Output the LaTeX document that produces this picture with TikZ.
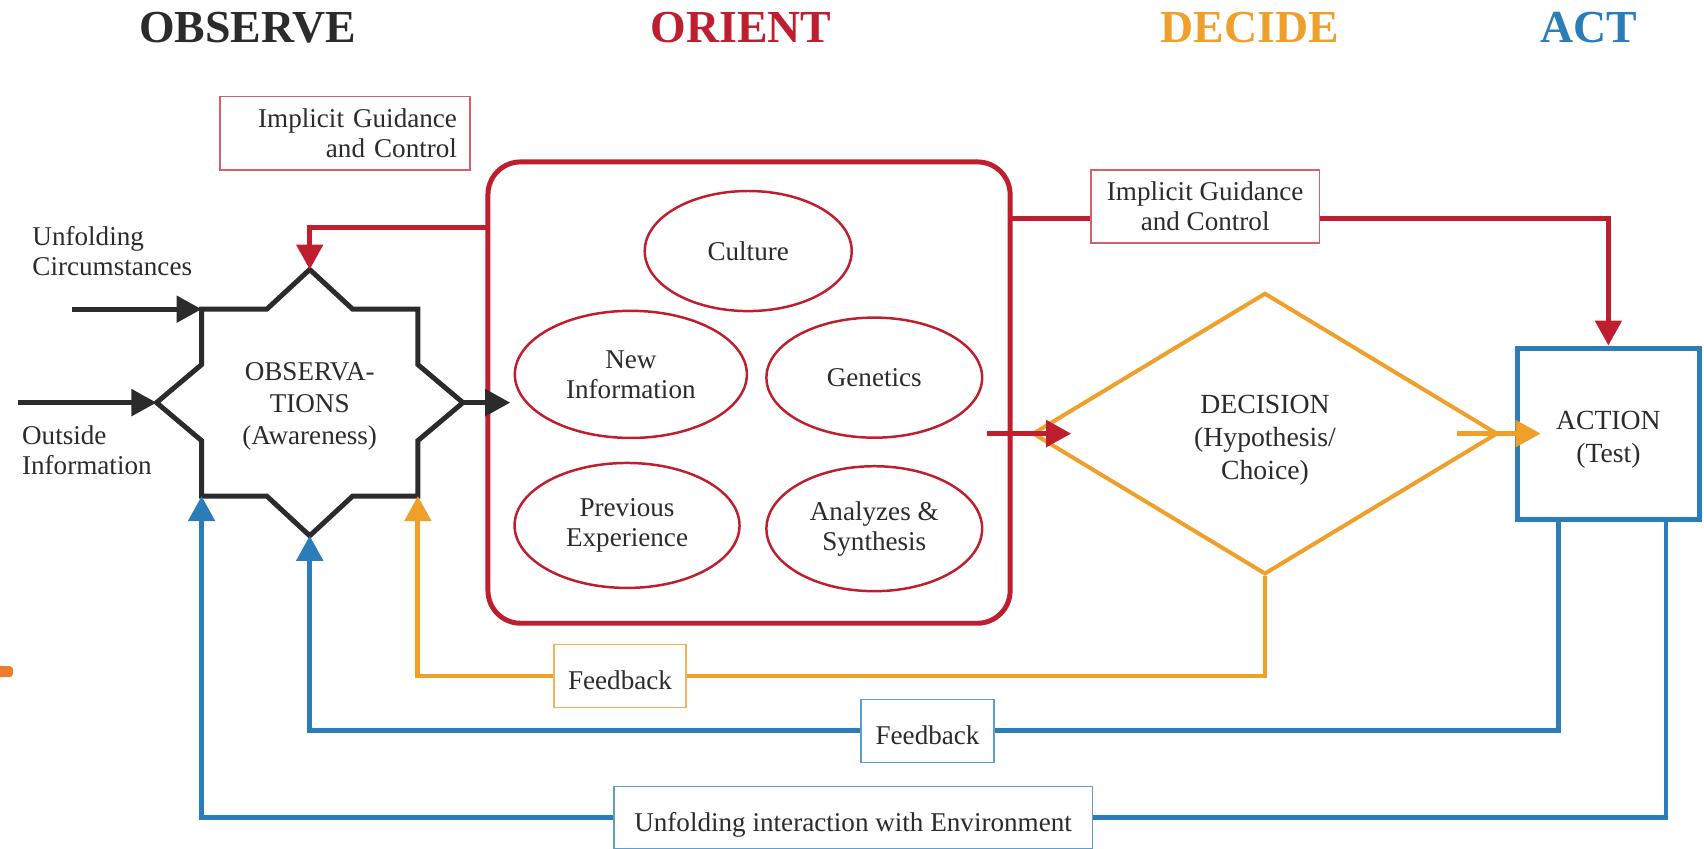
\documentclass[tikz,border=0pt]{standalone}
\usepackage{fontspec}
\setmainfont{Liberation Serif}
\usetikzlibrary{shapes.geometric,arrows.meta}
\definecolor{oodaRed}{HTML}{BE1E2D}
\definecolor{oodaOrange}{HTML}{EFA02A}
\definecolor{oodaBlue}{HTML}{2A7DB9}
\definecolor{oodaInk}{HTML}{2B2B2B}
\definecolor{markOrange}{HTML}{EE7D32}

\begin{document}
\begin{tikzpicture}[
    every node/.style={text=oodaInk,font=\fontsize{14.2}{15.6}\selectfont},
    phase/.style={font=\fontsize{24}{26}\selectfont\bfseries},
    bigtext/.style={align=center,font=\fontsize{14.5}{17.3}\selectfont},
    flow/.style={-{Triangle[length=0.46cm,width=0.48cm]}},
    starline/.style={line width=2.6pt,oodaInk},
    blackline/.style={line width=2.6pt,oodaInk},
    redline/.style={line width=2.6pt,oodaRed},
    orangeline/.style={line width=2.5pt,oodaOrange},
    blueline/.style={line width=2.5pt,oodaBlue},
    idea/.style={ellipse,draw=oodaRed,line width=1.3pt,inner sep=0pt,align=center},
    guide/.style={draw=oodaRed!70,line width=0.7pt,fill=white,inner sep=0pt},
    fbbox/.style={line width=0.7pt,fill=white,inner sep=0pt,minimum height=1.16cm,
      text height=1.41em,text depth=0pt}
  ]
  \useasboundingbox (0,0) rectangle (31.36,-15.62);

  \node (tObs) at (4.56,-0.51) [phase,text=oodaInk] {OBSERVE};
  \node (tOri) at (13.64,-0.51) [phase,text=oodaRed] {ORIENT};
  \node (tDec) at (23.00,-0.51) [phase,text=oodaOrange] {DECIDE};
  \node (tAct) at (29.24,-0.51) [phase,text=oodaBlue] {ACT};

  \fill[markOrange,rounded corners=0.06cm] (-0.2,-12.26) rectangle (0.24,-12.46);

  \node (guide1) at (6.35,-2.45) [guide,minimum width=4.6cm,minimum height=1.36cm,
    text width=4.12cm,align=right] {Implicit Guidance\\and Control};

  \node (unfold) at (0.59,-4.62) [anchor=west,inner sep=0pt,align=left] {Unfolding\\Circumstances};
  \node (outside) at (0.40,-8.28) [anchor=west,inner sep=0pt,align=left] {Outside\\Information};

  \draw[starline] (3.71,-5.69) coordinate (obsNW) -- (4.91,-5.69) -- (5.70,-4.96) coordinate (obsN)
    -- (6.49,-5.69) -- (7.69,-5.69) coordinate (obsNE) -- (7.69,-6.71) -- (8.52,-7.41) coordinate (obsE)
    -- (7.69,-8.11) -- (7.69,-9.13) coordinate (obsSE) -- (6.49,-9.13) -- (5.70,-9.86) coordinate (obsS)
    -- (4.91,-9.13) -- (3.71,-9.13) coordinate (obsSW) -- (3.71,-8.11) -- (2.88,-7.41) coordinate (obsW)
    -- (3.71,-6.71) -- cycle;
  \node (obs) at (5.70,-7.48) [bigtext,font=\fontsize{14.2}{16.8}\selectfont] {OBSERVA-\\TIONS\\(Awareness)};

  \node (orient) at (13.785,-7.225) [draw=oodaRed,line width=2.6pt,rounded corners=0.6cm,
    minimum width=9.61cm,minimum height=8.49cm] {};
  \node (culture) at (13.77,-4.62) [idea,minimum width=3.81cm,minimum height=2.21cm] {Culture};
  \node (newinfo) at (11.61,-6.89) [idea,minimum width=4.27cm,minimum height=2.34cm] {New\\Information};
  \node (genetics) at (16.09,-6.95) [idea,minimum width=3.97cm,minimum height=2.21cm] {Genetics};
  \node (prevexp) at (11.54,-9.67) [idea,minimum width=4.14cm,minimum height=2.30cm] {Previous\\Experience};
  \node (analyze) at (16.09,-9.73) [idea,minimum width=3.97cm,minimum height=2.30cm] {Analyzes \&\\Synthesis};

  \node (guide2) at (22.18,-3.80) [guide,minimum width=4.2cm,minimum height=1.34cm,align=center]
    {Implicit Guidance\\and Control};

  \node (dec) at (23.28,-7.98) [diamond,draw=oodaOrange,line width=2.1pt,inner sep=0pt,
    minimum width=8.56cm,minimum height=5.18cm] {};
  \node (decTxt) at ([yshift=-0.12cm]dec.center) [bigtext] {DECISION\\(Hypothesis/\\Choice)};
  \node (act) at (29.60,-7.98) [draw=oodaBlue,line width=2.6pt,minimum width=3.36cm,
    minimum height=3.15cm] {};
  \node (actTxt) at ([yshift=-0.11cm]act.center) [bigtext] {ACTION\\(Test)};

  \node (fbO) at (11.41,-12.44) [fbbox,draw=oodaOrange!80,minimum width=2.43cm] {Feedback};
  \node (fbB) at (17.07,-13.45) [fbbox,draw=oodaBlue!75,minimum width=2.45cm] {Feedback};
  \node (env) at (15.70,-15.05) [fbbox,draw=oodaBlue!75,minimum width=8.80cm,minimum height=1.14cm]
    {Unfolding interaction with Environment};

  \coordinate (inU) at (1.33,-5.69);
  \coordinate (inO) at (0.33,-7.41);
  \coordinate (orIn) at (9.39,-7.41);
  \coordinate (redL) at (8.98,-4.18);
  \coordinate (redR) at (18.59,-4.03);
  \coordinate (redIn) at (18.16,-7.98);
  \coordinate (orgOut) at (26.82,-7.98);

  \draw[blackline,flow] (inU) -- (obsNW);
  \draw[blackline,flow] (inO) -- (obsW);
  \draw[blackline,flow] (obsE) -- (orIn);

  \draw[redline,flow] (redL) -| (obsN);
  \draw[redline] (redR) -- (redR -| guide2.west);
  \draw[redline,flow] (redR -| guide2.east) -| (act.north);
  \draw[redline,flow] (redIn) -- ([xshift=0.75cm]dec.west);

  \draw[orangeline,flow] (orgOut) -- ([xshift=0.48cm]act.west);
  \draw[orangeline] (dec.south) |- (fbO.east);
  \draw[orangeline,flow] (fbO.west) -| (obsSE);

  \draw[blueline] ([xshift=-0.92cm]act.south) |- (fbB.east);
  \draw[blueline,flow] (fbB.west) -| (obsS);
  \draw[blueline] ([xshift=1.06cm]act.south) |- (env.east);
  \draw[blueline,flow] (env.west) -| (obsSW);
\end{tikzpicture}
\end{document}
